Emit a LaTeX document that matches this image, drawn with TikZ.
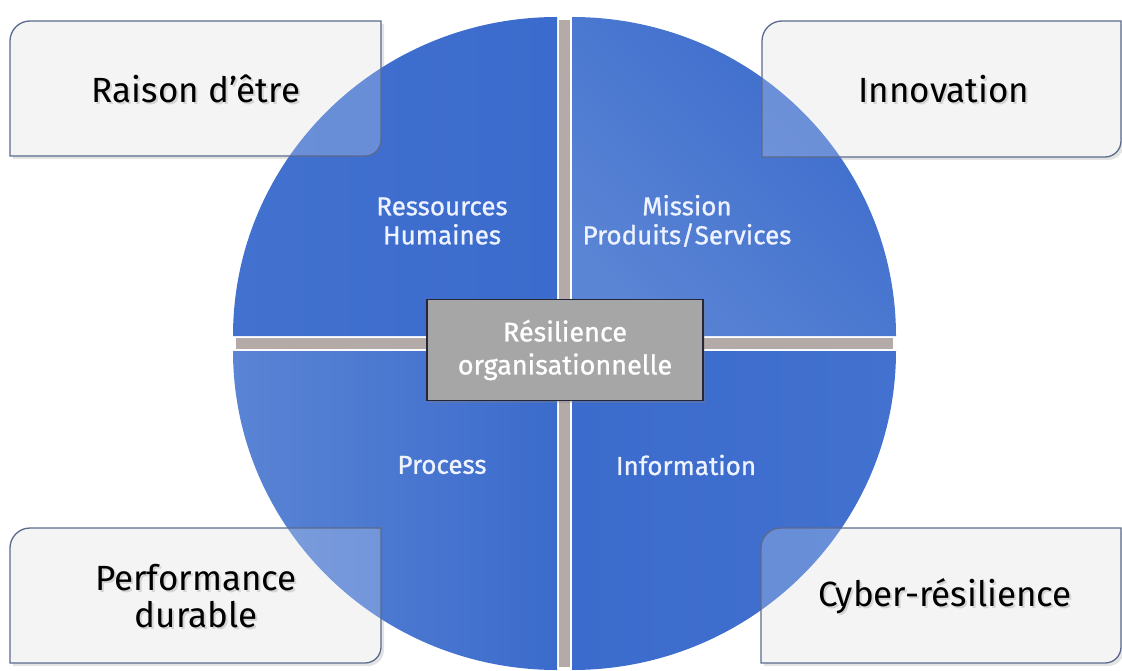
\documentclass[tikz,border=0pt]{standalone}
\usepackage{fontspec}
\setmainfont{Fira Sans}
\newfontfamily\firasemi[FakeBold=0.9]{Fira Sans}
\usetikzlibrary{shadows}
\definecolor{boxgray}{HTML}{F1F1F1}
\definecolor{boxedge}{HTML}{5A6A8C}
\definecolor{gapgray}{HTML}{B4ABA9}
\definecolor{qdark}{HTML}{3B6BCC}
\definecolor{qmid}{HTML}{4271CF}
\definecolor{qlight}{HTML}{5A84D4}
\definecolor{ctrfill}{HTML}{A6A6A6}
\definecolor{ctredge}{HTML}{262636}
\definecolor{qtext}{HTML}{EEF3FF}
\tikzset{
  cornerbase/.style={fill=boxgray, draw=none, drop shadow={opacity=0.22, shadow xshift=3pt, shadow yshift=-3pt}},
  cornerveil/.style={fill=white, fill opacity=0.22, draw=boxedge, line width=1.3pt},
  qlabel/.style={text=qtext, font=\firasemi\fontsize{26}{29}\selectfont, align=center},
  clabel/.style={text=black, font=\fontsize{35}{37}\selectfont, align=center},
  cshadow/.style={text=black, text opacity=0.13, font=\fontsize{35}{37}\selectfont, align=center},
  ctrbox/.style={fill=ctrfill, draw=ctredge, line width=1.5pt, minimum width=276pt, minimum height=101pt,
     drop shadow={opacity=0.3, shadow xshift=2pt, shadow yshift=-2pt}},
  ctrlabel/.style={text=white, font=\firasemi\fontsize{27}{33}\selectfont, align=center}
}
\newcommand{\cornerpath}[4]{(#1,#2+20) arc[start angle=180,end angle=270,radius=20] -- (#3,#2) -- (#3,#4-16) arc[start angle=0,end angle=90,radius=16] -- (#1,#4) -- cycle}
\begin{document}
\begin{tikzpicture}[x=1pt,y=-1pt]
\useasboundingbox (0,0) rectangle (1122,671);
% corner boxes (base)
\path[cornerbase] \cornerpath{10}{21}{381}{156};
\path[cornerbase] \cornerpath{762}{21}{1121}{157};
\path[cornerbase] \cornerpath{10}{528}{381}{663};
\path[cornerbase] \cornerpath{761}{528}{1121}{663};
% gaps
\fill[white] (557,19) rectangle (572,668);
\fill[white] (235,336) rectangle (894,351);
\fill[gapgray] (559,20) rectangle (570,667);
\fill[gapgray] (236,338) rectangle (893,349);
% quadrants
\shade[left color=qmid, right color=qdark] (557,336) -- (233,336) arc[start angle=180,end angle=270,x radius=324,y radius=319] -- cycle;
\shade[shading=axis, left color=qlight, right color=qdark, shading angle=135] (572,336) -- (896,336) arc[start angle=0,end angle=-90,x radius=324,y radius=319] -- cycle;
\shade[left color=qlight, right color=qdark] (557,351) -- (233,351) arc[start angle=180,end angle=90,x radius=324,y radius=319] -- cycle;
\shade[left color=qdark, right color=qmid] (572,351) -- (896,351) arc[start angle=0,end angle=90,x radius=324,y radius=319] -- cycle;
% corner boxes (veil + border)
\path[cornerveil] \cornerpath{10}{21}{381}{156};
\path[cornerveil] \cornerpath{762}{21}{1121}{157};
\path[cornerveil] \cornerpath{10}{528}{381}{663};
\path[cornerveil] \cornerpath{761}{528}{1121}{663};
% quadrant labels
\node[qlabel] (rh) at (442,221) {Ressources\\Humaines};
\node[qlabel] (mp) at (687,221) {Mission\\Produits/Services};
\node[qlabel] (pr) at (442,465) {Process};
\node[qlabel] (inf) at (686,465) {Information};
% center
\node[ctrbox] (ctr) at (565,350) {};
\node[ctrlabel] (ctrt) at (ctr) {Résilience\\organisationnelle};
% corner labels
\node[cshadow] (s1) at (198,91) {Raison d’être};
\node[clabel] (t1) at (196,89) {Raison d’être};
\node[cshadow] (s2) at (946,91) {Innovation};
\node[clabel] (t2) at (944,89) {Innovation};
\node[cshadow] (s3) at (198,598) {Performance\\durable};
\node[clabel] (t3) at (196,596) {Performance\\durable};
\node[cshadow] (s4) at (947,598) {Cyber-résilience};
\node[clabel] (t4) at (945,596) {Cyber-résilience};
\end{tikzpicture}
\end{document}
